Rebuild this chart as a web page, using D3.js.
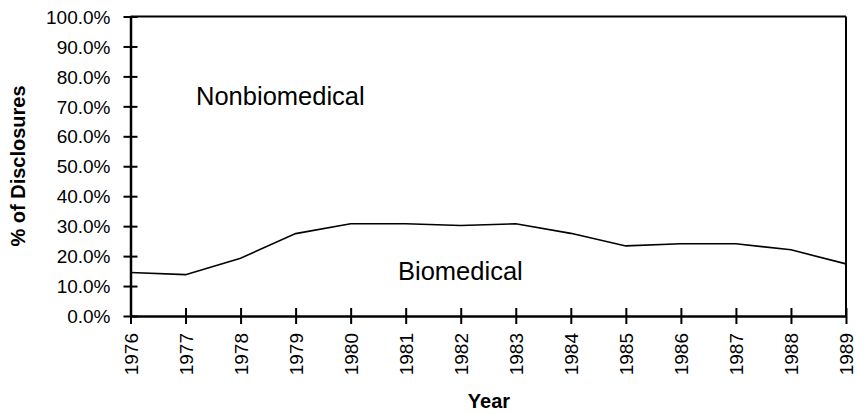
<!DOCTYPE html>
<html><head><meta charset="utf-8">
<script src="https://cdn.jsdelivr.net/npm/d3@7"></script>
<style>body{margin:0;background:#fff}svg{display:block}text{font-family:"Liberation Sans",Arial,sans-serif;fill:#000}</style>
</head><body><svg id="c" width="857" height="414"></svg>
<script>
const years = [1976,1977,1978,1979,1980,1981,1982,1983,1984,1985,1986,1987,1988,1989];
const biomedicalPct = [14.5,13.8,19.3,27.5,30.8,30.8,30.2,30.8,27.6,23.4,24.1,24.1,22.1,17.4];
const yTicks = [0,10,20,30,40,50,60,70,80,90,100];
const areaLabels = ["Nonbiomedical","Biomedical"];

const svg = d3.select("#c");
const L=130.5, R=846, T=16.5, B=316;
const x = d3.scalePoint().domain(years).range([L,R]);
const y = d3.scaleLinear().domain([0,100]).range([B,T]);

// frame top & right
svg.append("line").attr("x1",L).attr("x2",R).attr("y1",T).attr("y2",T).attr("stroke","#000").attr("stroke-width",2);
svg.append("line").attr("x1",R).attr("x2",R).attr("y1",T).attr("y2",B).attr("stroke","#000").attr("stroke-width",2);

// y axis
const ya = svg.append("g").attr("transform",`translate(${L},0)`)
  .call(d3.axisLeft(y).tickValues(yTicks).tickSize(0).tickPadding(20).tickFormat(d=>d.toFixed(1)+"%"));
ya.select(".domain").attr("stroke","#000").attr("stroke-width",2.5);
ya.selectAll(".tick line").remove();
ya.selectAll(".tick").append("line").attr("x1",-7).attr("x2",7).attr("stroke","#000").attr("stroke-width",2);
ya.selectAll(".tick text").attr("font-size",19).attr("font-family","Liberation Sans, Arial, sans-serif").attr("fill","#000").attr("dy","0.35em");

// x axis
const xa = svg.append("g").attr("transform",`translate(0,${B})`)
  .call(d3.axisBottom(x).tickSize(0).tickPadding(0));
xa.select(".domain").attr("stroke","#000").attr("stroke-width",2.5);
xa.selectAll(".tick").append("line").attr("y1",-8).attr("y2",8).attr("stroke","#000").attr("stroke-width",2);
xa.selectAll(".tick text").attr("font-size",19).attr("font-family","Liberation Sans, Arial, sans-serif").attr("fill","#000")
  .attr("text-anchor","end").attr("transform","rotate(-90)").attr("x",-17).attr("y",0).attr("dy","0.35em");

// line
svg.append("path").datum(years.map((yr,i)=>[yr,biomedicalPct[i]]))
  .attr("fill","none").attr("stroke","#000").attr("stroke-width",1.6)
  .attr("d", d3.line().x(d=>x(d[0])).y(d=>y(d[1])));

// labels
svg.append("text").attr("x",196).attr("y",105).attr("font-size",25.5).text(areaLabels[0]);
svg.append("text").attr("x",398).attr("y",280).attr("font-size",25.5).text(areaLabels[1]);

svg.append("text").attr("transform","translate(25,166) rotate(-90)").attr("text-anchor","middle")
  .attr("font-size",20).attr("font-weight","bold").text("% of Disclosures");
svg.append("text").attr("x",489).attr("y",408).attr("text-anchor","middle")
  .attr("font-size",20).attr("font-weight","bold").text("Year");
</script></body></html>
